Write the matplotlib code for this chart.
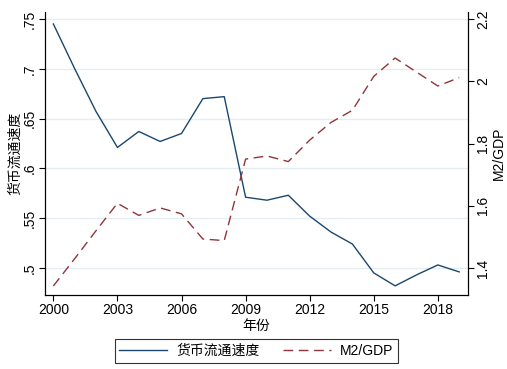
import matplotlib
matplotlib.use("Agg")
import matplotlib.pyplot as plt
from matplotlib.ticker import FixedLocator

plt.rcParams["font.family"] = ["Liberation Sans", "Noto Sans CJK SC", "DejaVu Sans"]

# 数据
years = list(range(2000, 2020))
velocity = [0.745, 0.700, 0.657, 0.621, 0.637, 0.627, 0.635, 0.670, 0.672, 0.571,
            0.568, 0.573, 0.552, 0.536, 0.524, 0.495, 0.482, 0.493, 0.503, 0.496]
m2_gdp = [1.342, 1.430, 1.520, 1.608, 1.569, 1.593, 1.574, 1.493, 1.488, 1.750,
          1.760, 1.742, 1.811, 1.868, 1.907, 2.016, 2.075, 2.030, 1.985, 2.012]

x_ticks = [2000, 2003, 2006, 2009, 2012, 2015, 2018]
left_ticks = [0.5, 0.55, 0.6, 0.65, 0.7, 0.75]
left_labels = [".5", ".55", ".6", ".65", ".7", ".75"]
right_ticks = [1.4, 1.6, 1.8, 2.0, 2.2]
right_labels = ["1.4", "1.6", "1.8", "2", "2.2"]

NAVY = "#1a476f"
MAROON = "#90353b"
GRID = "#e4eef0"

fig = plt.figure(figsize=(5.07, 3.69), dpi=100)
ax = fig.add_axes([0.0888, 0.2005, 0.923 - 0.0888, 0.9675 - 0.2005])
ax2 = ax.twinx()

l1, = ax.plot(years, velocity, color=NAVY, lw=1.0, label="货币流通速度")
l2, = ax2.plot(years, m2_gdp, color=MAROON, lw=1.0, dashes=(7, 4), label="M2/GDP")

ax.set_xlim(1999.61, 2019.41)
ax.set_ylim(0.4728, 0.757)
ax2.set_ylim(1.313, 2.223)

ax.xaxis.set_major_locator(FixedLocator(x_ticks))
ax.set_yticks(left_ticks)
ax.set_yticklabels(left_labels, rotation=90, va="center")
ax2.set_yticks(right_ticks)
ax2.set_yticklabels(right_labels, rotation=90, va="center")

ax.yaxis.grid(True, color=GRID, lw=1.0)
ax.set_axisbelow(True)

for a in (ax, ax2):
    a.spines["top"].set_visible(False)
    for s in ("left", "right", "bottom"):
        a.spines[s].set_linewidth(0.8)
        a.spines[s].set_color("black")
    a.tick_params(direction="out", length=4, width=0.8, labelsize=10, pad=2)

ax.set_xlabel("年份", fontsize=10, labelpad=1)
ax.set_ylabel("货币流通速度", fontsize=10, labelpad=0)
ax2.set_ylabel("M2/GDP", fontsize=10, labelpad=1)

leg = fig.legend(handles=[l1, l2], loc="center", bbox_to_anchor=(0.506, 0.049),
                 ncol=2, frameon=True, fancybox=False, edgecolor="black",
                 fontsize=10, handlelength=3.4, columnspacing=1.7,
                 borderpad=0.35, handletextpad=0.7, borderaxespad=0)
leg.get_frame().set_linewidth(0.8)

fig.savefig("out.png", dpi=100)
